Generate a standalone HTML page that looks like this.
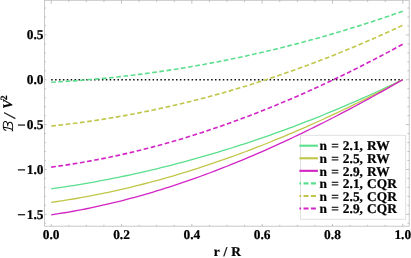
<!DOCTYPE html>
<html><head><meta charset="utf-8"><title>plot</title>
<style>
html,body{margin:0;padding:0;background:#fff;}
body{width:411px;height:258px;overflow:hidden;font-family:"Liberation Serif",serif;}
svg{display:block;will-change:transform;}
text{font-family:"Liberation Serif",serif;font-weight:bold;fill:#000;stroke:#000;stroke-width:0.22px;word-spacing:0.75px;text-rendering:geometricPrecision;}
</style></head><body>
<svg width="411" height="258" viewBox="0 0 411 258">
<rect x="0" y="0" width="411" height="258" fill="#fff"/>

<rect x="44.6" y="0.3" width="364.60" height="225.90" fill="none" stroke="#bebebe" stroke-width="0.85"/>
<path d="M44.6,223.27h1.3 M409.2,223.27h-1.8 M44.6,214.30h1.9 M409.2,214.30h-3.4 M44.6,205.33h1.3 M409.2,205.33h-1.8 M44.6,196.36h1.3 M409.2,196.36h-1.8 M44.6,187.39h1.3 M409.2,187.39h-1.8 M44.6,178.42h1.3 M409.2,178.42h-1.8 M44.6,169.45h1.9 M409.2,169.45h-3.4 M44.6,160.48h1.3 M409.2,160.48h-1.8 M44.6,151.51h1.3 M409.2,151.51h-1.8 M44.6,142.54h1.3 M409.2,142.54h-1.8 M44.6,133.57h1.3 M409.2,133.57h-1.8 M44.6,124.60h1.9 M409.2,124.60h-3.4 M44.6,115.63h1.3 M409.2,115.63h-1.8 M44.6,106.66h1.3 M409.2,106.66h-1.8 M44.6,97.69h1.3 M409.2,97.69h-1.8 M44.6,88.72h1.3 M409.2,88.72h-1.8 M44.6,79.75h1.9 M409.2,79.75h-3.4 M44.6,70.78h1.3 M409.2,70.78h-1.8 M44.6,61.81h1.3 M409.2,61.81h-1.8 M44.6,52.84h1.3 M409.2,52.84h-1.8 M44.6,43.87h1.3 M409.2,43.87h-1.8 M44.6,34.90h1.9 M409.2,34.90h-3.4 M44.6,25.93h1.3 M409.2,25.93h-1.8 M44.6,16.96h1.3 M409.2,16.96h-1.8 M44.6,7.99h1.3 M409.2,7.99h-1.8 M51.20,226.2v-2.4 M51.20,0.3v3.5 M68.78,226.2v-1.4 M68.78,0.3v1.8 M86.36,226.2v-1.4 M86.36,0.3v1.8 M103.94,226.2v-1.4 M103.94,0.3v1.8 M121.52,226.2v-2.4 M121.52,0.3v3.5 M139.10,226.2v-1.4 M139.10,0.3v1.8 M156.68,226.2v-1.4 M156.68,0.3v1.8 M174.26,226.2v-1.4 M174.26,0.3v1.8 M191.84,226.2v-2.4 M191.84,0.3v3.5 M209.42,226.2v-1.4 M209.42,0.3v1.8 M227.00,226.2v-1.4 M227.00,0.3v1.8 M244.58,226.2v-1.4 M244.58,0.3v1.8 M262.16,226.2v-2.4 M262.16,0.3v3.5 M279.74,226.2v-1.4 M279.74,0.3v1.8 M297.32,226.2v-1.4 M297.32,0.3v1.8 M314.90,226.2v-1.4 M314.90,0.3v1.8 M332.48,226.2v-2.4 M332.48,0.3v3.5 M350.06,226.2v-1.4 M350.06,0.3v1.8 M367.64,226.2v-1.4 M367.64,0.3v1.8 M385.22,226.2v-1.4 M385.22,0.3v1.8 M402.80,226.2v-2.4 M402.80,0.3v3.5" stroke="#b2b2b2" stroke-width="0.8" fill="none"/>
<path d="M51.20,79.75H402.80" stroke="#111" stroke-width="1.5" stroke-dasharray="1.5 2.4" fill="none"/>
<path d="M51.20,188.79 L55.60,188.17 L59.99,187.54 L64.39,186.89 L68.78,186.21 L73.18,185.52 L77.57,184.81 L81.97,184.08 L86.36,183.34 L90.76,182.57 L95.15,181.78 L99.55,180.98 L103.94,180.15 L108.34,179.31 L112.73,178.45 L117.13,177.57 L121.52,176.67 L125.92,175.75 L130.31,174.81 L134.71,173.85 L139.10,172.88 L143.50,171.88 L147.89,170.87 L152.29,169.84 L156.68,168.78 L161.07,167.71 L165.47,166.62 L169.87,165.51 L174.26,164.39 L178.66,163.24 L183.05,162.07 L187.44,160.89 L191.84,159.69 L196.24,158.46 L200.63,157.22 L205.03,155.96 L209.42,154.68 L213.81,153.38 L218.21,152.07 L222.61,150.73 L227.00,149.37 L231.40,148.00 L235.79,146.61 L240.19,145.19 L244.58,143.76 L248.98,142.31 L253.37,140.84 L257.77,139.36 L262.16,137.85 L266.56,136.32 L270.95,134.78 L275.35,133.21 L279.74,131.63 L284.14,130.03 L288.53,128.41 L292.93,126.77 L297.32,125.11 L301.72,123.43 L306.11,121.73 L310.50,120.02 L314.90,118.28 L319.30,116.53 L323.69,114.76 L328.09,112.96 L332.48,111.15 L336.88,109.32 L341.27,107.47 L345.67,105.61 L350.06,103.72 L354.46,101.81 L358.85,99.89 L363.25,97.95 L367.64,95.98 L372.04,94.00 L376.43,92.00 L380.82,89.98 L385.22,87.94 L389.62,85.89 L394.01,83.81 L398.41,81.71 L402.80,79.60" stroke="#5adf8d" stroke-width="1.3" fill="none"/>
<path d="M51.20,202.38 L55.60,201.75 L59.99,201.10 L64.39,200.42 L68.78,199.72 L73.18,198.99 L77.57,198.24 L81.97,197.46 L86.36,196.66 L90.76,195.83 L95.15,194.98 L99.55,194.10 L103.94,193.20 L108.34,192.27 L112.73,191.32 L117.13,190.35 L121.52,189.35 L125.92,188.33 L130.31,187.28 L134.71,186.21 L139.10,185.12 L143.50,184.00 L147.89,182.86 L152.29,181.70 L156.68,180.51 L161.07,179.30 L165.47,178.06 L169.87,176.80 L174.26,175.52 L178.66,174.22 L183.05,172.90 L187.44,171.55 L191.84,170.18 L196.24,168.78 L200.63,167.36 L205.03,165.93 L209.42,164.47 L213.81,162.98 L218.21,161.48 L222.61,159.95 L227.00,158.40 L231.40,156.83 L235.79,155.24 L240.19,153.62 L244.58,151.99 L248.98,150.33 L253.37,148.65 L257.77,146.96 L262.16,145.23 L266.56,143.49 L270.95,141.73 L275.35,139.95 L279.74,138.14 L284.14,136.32 L288.53,134.47 L292.93,132.61 L297.32,130.72 L301.72,128.82 L306.11,126.89 L310.50,124.94 L314.90,122.98 L319.30,120.99 L323.69,118.98 L328.09,116.96 L332.48,114.91 L336.88,112.85 L341.27,110.76 L345.67,108.66 L350.06,106.54 L354.46,104.39 L358.85,102.23 L363.25,100.05 L367.64,97.85 L372.04,95.63 L376.43,93.40 L380.82,91.14 L385.22,88.87 L389.62,86.58 L394.01,84.27 L398.41,81.94 L402.80,79.59" stroke="#c1c649" stroke-width="1.3" fill="none"/>
<path d="M51.20,214.80 L55.60,214.15 L59.99,213.47 L64.39,212.76 L68.78,212.02 L73.18,211.25 L77.57,210.44 L81.97,209.61 L86.36,208.75 L90.76,207.85 L95.15,206.93 L99.55,205.97 L103.94,204.99 L108.34,203.97 L112.73,202.93 L117.13,201.86 L121.52,200.76 L125.92,199.63 L130.31,198.47 L134.71,197.29 L139.10,196.07 L143.50,194.83 L147.89,193.56 L152.29,192.26 L156.68,190.94 L161.07,189.59 L165.47,188.21 L169.87,186.81 L174.26,185.38 L178.66,183.92 L183.05,182.44 L187.44,180.93 L191.84,179.40 L196.24,177.84 L200.63,176.25 L205.03,174.64 L209.42,173.01 L213.81,171.35 L218.21,169.66 L222.61,167.96 L227.00,166.23 L231.40,164.47 L235.79,162.69 L240.19,160.89 L244.58,159.06 L248.98,157.22 L253.37,155.34 L257.77,153.45 L262.16,151.53 L266.56,149.60 L270.95,147.64 L275.35,145.65 L279.74,143.65 L284.14,141.63 L288.53,139.58 L292.93,137.51 L297.32,135.42 L301.72,133.32 L306.11,131.19 L310.50,129.04 L314.90,126.87 L319.30,124.68 L323.69,122.47 L328.09,120.24 L332.48,118.00 L336.88,115.73 L341.27,113.45 L345.67,111.14 L350.06,108.82 L354.46,106.48 L358.85,104.13 L363.25,101.75 L367.64,99.36 L372.04,96.95 L376.43,94.52 L380.82,92.08 L385.22,89.62 L389.62,87.14 L394.01,84.64 L398.41,82.13 L402.80,79.61" stroke="#d224c5" stroke-width="1.3" fill="none"/>
<path d="M51.20,82.23 L55.60,82.00 L59.99,81.75 L64.39,81.48 L68.78,81.19 L73.18,80.89 L77.57,80.58 L81.97,80.24 L86.36,79.89 L90.76,79.53 L95.15,79.14 L99.55,78.75 L103.94,78.33 L108.34,77.90 L112.73,77.45 L117.13,76.98 L121.52,76.50 L125.92,76.00 L130.31,75.48 L134.71,74.95 L139.10,74.40 L143.50,73.84 L147.89,73.26 L152.29,72.66 L156.68,72.04 L161.07,71.41 L165.47,70.77 L169.87,70.10 L174.26,69.42 L178.66,68.72 L183.05,68.01 L187.44,67.28 L191.84,66.53 L196.24,65.77 L200.63,64.99 L205.03,64.19 L209.42,63.38 L213.81,62.55 L218.21,61.70 L222.61,60.84 L227.00,59.96 L231.40,59.06 L235.79,58.15 L240.19,57.22 L244.58,56.27 L248.98,55.31 L253.37,54.33 L257.77,53.34 L262.16,52.32 L266.56,51.30 L270.95,50.25 L275.35,49.19 L279.74,48.11 L284.14,47.02 L288.53,45.90 L292.93,44.78 L297.32,43.63 L301.72,42.47 L306.11,41.29 L310.50,40.10 L314.90,38.89 L319.30,37.66 L323.69,36.42 L328.09,35.16 L332.48,33.88 L336.88,32.59 L341.27,31.28 L345.67,29.95 L350.06,28.61 L354.46,27.25 L358.85,25.87 L363.25,24.48 L367.64,23.07 L372.04,21.64 L376.43,20.20 L380.82,18.74 L385.22,17.27 L389.62,15.78 L394.01,14.27 L398.41,12.74 L402.80,11.20" stroke="#5adf8d" stroke-width="1.6" fill="none" stroke-dasharray="4.7 2.55"/>
<path d="M51.20,126.06 L55.60,125.59 L59.99,125.10 L64.39,124.59 L68.78,124.06 L73.18,123.51 L77.57,122.94 L81.97,122.35 L86.36,121.74 L90.76,121.11 L95.15,120.46 L99.55,119.79 L103.94,119.10 L108.34,118.39 L112.73,117.66 L117.13,116.91 L121.52,116.14 L125.92,115.35 L130.31,114.54 L134.71,113.71 L139.10,112.86 L143.50,111.99 L147.89,111.10 L152.29,110.19 L156.68,109.26 L161.07,108.31 L165.47,107.34 L169.87,106.35 L174.26,105.34 L178.66,104.31 L183.05,103.26 L187.44,102.19 L191.84,101.09 L196.24,99.98 L200.63,98.85 L205.03,97.70 L209.42,96.53 L213.81,95.34 L218.21,94.13 L222.61,92.90 L227.00,91.65 L231.40,90.38 L235.79,89.09 L240.19,87.78 L244.58,86.45 L248.98,85.10 L253.37,83.73 L257.77,82.34 L262.16,80.93 L266.56,79.50 L270.95,78.05 L275.35,76.58 L279.74,75.09 L284.14,73.58 L288.53,72.05 L292.93,70.50 L297.32,68.93 L301.72,67.34 L306.11,65.73 L310.50,64.10 L314.90,62.45 L319.30,60.78 L323.69,59.09 L328.09,57.38 L332.48,55.65 L336.88,53.90 L341.27,52.13 L345.67,50.33 L350.06,48.52 L354.46,46.69 L358.85,44.84 L363.25,42.97 L367.64,41.08 L372.04,39.17 L376.43,37.24 L380.82,35.29 L385.22,33.32 L389.62,31.33 L394.01,29.32 L398.41,27.29 L402.80,25.24" stroke="#c1c649" stroke-width="1.6" fill="none" stroke-dasharray="4.7 2.55"/>
<path d="M51.20,167.10 L55.60,166.52 L59.99,165.90 L64.39,165.27 L68.78,164.60 L73.18,163.91 L77.57,163.20 L81.97,162.46 L86.36,161.69 L90.76,160.90 L95.15,160.08 L99.55,159.23 L103.94,158.36 L108.34,157.47 L112.73,156.54 L117.13,155.60 L121.52,154.63 L125.92,153.63 L130.31,152.61 L134.71,151.56 L139.10,150.49 L143.50,149.40 L147.89,148.27 L152.29,147.13 L156.68,145.96 L161.07,144.77 L165.47,143.55 L169.87,142.31 L174.26,141.04 L178.66,139.75 L183.05,138.43 L187.44,137.10 L191.84,135.73 L196.24,134.35 L200.63,132.94 L205.03,131.51 L209.42,130.05 L213.81,128.57 L218.21,127.07 L222.61,125.54 L227.00,123.99 L231.40,122.42 L235.79,120.83 L240.19,119.21 L244.58,117.57 L248.98,115.91 L253.37,114.23 L257.77,112.52 L262.16,110.79 L266.56,109.04 L270.95,107.26 L275.35,105.47 L279.74,103.65 L284.14,101.81 L288.53,99.95 L292.93,98.07 L297.32,96.16 L301.72,94.24 L306.11,92.29 L310.50,90.32 L314.90,88.33 L319.30,86.32 L323.69,84.29 L328.09,82.24 L332.48,80.16 L336.88,78.07 L341.27,75.95 L345.67,73.82 L350.06,71.66 L354.46,69.48 L358.85,67.29 L363.25,65.07 L367.64,62.83 L372.04,60.58 L376.43,58.30 L380.82,56.00 L385.22,53.68 L389.62,51.35 L394.01,48.99 L398.41,46.62 L402.80,44.22" stroke="#d224c5" stroke-width="1.6" fill="none" stroke-dasharray="4.7 2.55"/>
<text transform="translate(43.50,39.30)" font-size="13.4" text-anchor="end">0.5</text>
<text transform="translate(43.50,84.15)" font-size="13.4" text-anchor="end">0.0</text>
<text transform="translate(43.50,129.00)" font-size="13.4" text-anchor="end">0.5</text>
<path d="M17.9,125.05H25.1" stroke="#000" stroke-width="1.15" fill="none"/>
<text transform="translate(43.50,173.85)" font-size="13.4" text-anchor="end">1.0</text>
<path d="M17.9,169.90H25.1" stroke="#000" stroke-width="1.15" fill="none"/>
<text transform="translate(43.50,218.70)" font-size="13.4" text-anchor="end">1.5</text>
<path d="M17.9,214.75H25.1" stroke="#000" stroke-width="1.15" fill="none"/>
<text transform="translate(51.20,239.20)" font-size="13.4" text-anchor="middle">0.0</text>
<text transform="translate(121.52,239.20)" font-size="13.4" text-anchor="middle">0.2</text>
<text transform="translate(191.84,239.20)" font-size="13.4" text-anchor="middle">0.4</text>
<text transform="translate(262.16,239.20)" font-size="13.4" text-anchor="middle">0.6</text>
<text transform="translate(332.48,239.20)" font-size="13.4" text-anchor="middle">0.8</text>
<text transform="translate(402.80,239.20)" font-size="13.4" text-anchor="middle">1.0</text>
<text transform="translate(227.30,255.50)" font-size="13.4" text-anchor="middle">r / R</text>
<g transform="translate(12.4,131.6) rotate(-90)"><path transform="translate(0.2,0.3) scale(1.18,1.02)" d="M3.5,-8.7 C3.1,-6 2.5,-3 1.9,-0.7 C1.6,0.3 0.6,0.3 0.3,-0.6 M0.9,-6.6 C0.9,-8.5 3,-9.3 5,-9.3 C7.2,-9.3 8.3,-8.4 8.3,-7.2 C8.3,-5.8 6.6,-5 4.4,-4.9 C6.6,-4.8 7.7,-3.9 7.7,-2.6 C7.7,-0.9 5.8,0 3.8,0 C2.8,0 2.2,-0.2 1.9,-0.7" fill="none" stroke="#000" stroke-width="0.85" stroke-linecap="round"/><text x="13.6" y="2.2" font-size="16.5" font-style="italic" font-weight="normal">/</text><text x="22.9" y="0" font-size="13.4" font-style="italic">V</text><text x="31.4" y="-5.9" font-size="9.6">2</text></g>
<rect x="300.5" y="135.3" width="105.15" height="84.00" fill="#fff" stroke="#e0e0e0" stroke-width="1"/>
<path d="M299.4,145.70H317.9" stroke="#5adf8d" stroke-width="2.1" fill="none"/>
<text transform="translate(319.60,150.40)" font-size="13.4" text-anchor="start">n = 2.1, RW</text>
<path d="M299.4,158.27H317.9" stroke="#c1c649" stroke-width="2.1" fill="none"/>
<text transform="translate(319.60,162.97)" font-size="13.4" text-anchor="start">n = 2.5, RW</text>
<path d="M299.4,170.84H317.9" stroke="#d224c5" stroke-width="2.1" fill="none"/>
<text transform="translate(319.60,175.54)" font-size="13.4" text-anchor="start">n = 2.9, RW</text>
<path d="M299.4,183.41H317.9" stroke="#5adf8d" stroke-width="2.1" fill="none" stroke-dasharray="5 2.4" stroke-dashoffset="3.3"/>
<text transform="translate(319.60,188.11)" font-size="13.4" text-anchor="start">n = 2.1, CQR</text>
<path d="M299.4,195.98H317.9" stroke="#c1c649" stroke-width="2.1" fill="none" stroke-dasharray="5 2.4" stroke-dashoffset="3.3"/>
<text transform="translate(319.60,200.68)" font-size="13.4" text-anchor="start">n = 2.5, CQR</text>
<path d="M299.4,208.55H317.9" stroke="#d224c5" stroke-width="2.1" fill="none" stroke-dasharray="5 2.4" stroke-dashoffset="3.3"/>
<text transform="translate(319.60,213.25)" font-size="13.4" text-anchor="start">n = 2.9, CQR</text>
</svg></body></html>
